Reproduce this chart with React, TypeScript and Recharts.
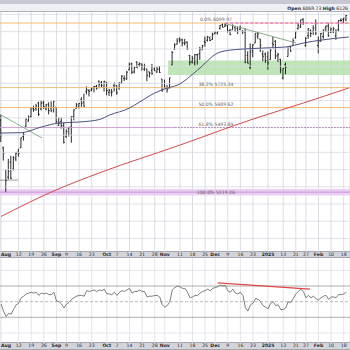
import React from 'react';
import { ComposedChart, Bar, Line, XAxis, YAxis, CartesianGrid, ReferenceLine, ReferenceArea, ReferenceDot } from 'recharts';

// daily OHLC, Aug 1 2024 .. Feb 19 2025 (trading days)
const opens = [5537,5376,5151,5206,5293,5252,5312,5352,5376,5442,5501,5531,5557,5603,5603,5637,5602,5640,5602,5629,5607,5612,
  5612,5506,5530,5507,5443,5490,5496,5558,5605,5615,5655,5641,5702,5709,5711,5727,5733,5762,5756,5727,
  5757,5698,5698,5737,5737,5725,5752,5778,5775,5829,5866,5816,5875,5859,5858,5833,5834,5817,5826,5833,5816,5832,5775,
  5724,5725,5722,5856,5947,5977,6008,6003,5985,5990,5912,5875,5870,5916,5923,5944,5992,6000,6015,6004,
  6040,6042,6069,6090,6082,6084,6057,6060,6075,6068,6063,6053,6047,5913,5842,5940,5984,6024,6007,5920,5920,
  5903,5888,5982,5994,5910,5890,5782,5859,5906,5966,5970,6015,6069,6077,6122,5970,6027,6057,6051,6097,
  5970,5998,6021,6072,6083,6046,6049,6025,6061,6115,6121,6118];
const highs = [5566,5383,5250,5312,5330,5328,5351,5371,5436,5464,5546,5564,5608,5620,5632,5643,5651,5651,5631,5640,5646,5651,
  5612,5552,5552,5522,5484,5497,5560,5600,5636,5636,5670,5690,5733,5716,5725,5735,5741,5767,5764,5765,
  5757,5719,5718,5753,5739,5757,5797,5796,5822,5871,5870,5846,5878,5873,5867,5864,5835,5817,5863,5842,5847,5850,5775,
  5772,5741,5783,5937,5983,6012,6017,6009,6008,5993,5915,5909,5920,5921,5962,5973,6021,6025,6021,6044,
  6053,6053,6089,6099,6100,6088,6066,6092,6080,6078,6085,6058,6070,5936,5982,5978,6041,6049,6007,5941,5929,
  5935,5949,6022,6001,5928,5892,5839,5871,5960,5966,6011,6051,6100,6119,6128,6018,6070,6062,6087,6121,
  6022,6043,6062,6084,6101,6074,6076,6064,6116,6128,6129,6147];
const lows = [5410,5302,5119,5193,5195,5245,5299,5325,5376,5418,5497,5528,5551,5585,5591,5561,5593,5602,5593,5570,5583,5581,
  5517,5503,5488,5402,5434,5442,5406,5535,5604,5604,5614,5615,5686,5674,5704,5698,5714,5721,5727,5703,
  5681,5677,5674,5703,5684,5713,5750,5764,5771,5825,5804,5808,5840,5846,5824,5822,5763,5784,5800,5823,5811,5811,5703,
  5723,5696,5722,5856,5946,5976,5986,5964,5970,5944,5854,5865,5853,5859,5886,5944,5963,5992,5995,6003,
  6034,6034,6062,6075,6076,6045,6029,6060,6051,6036,6059,6036,5867,5866,5832,5902,5983,6007,5932,5879,5869,
  5829,5888,5960,5891,5874,5809,5773,5803,5906,5935,5970,6010,6062,6071,6089,5962,6009,6019,6031,6030,
  5924,5990,6008,6048,6020,6042,6042,6003,6051,6107,6099,6111];
const closes = [5446,5346,5186,5240,5199,5319,5344,5344,5434,5455,5543,5554,5608,5597,5620,5570,5634,5616,5625,5592,5591,5648,
  5528,5520,5503,5408,5471,5496,5554,5596,5626,5633,5634,5618,5713,5703,5718,5732,5722,5745,5738,5762,
  5709,5709,5700,5751,5696,5751,5792,5780,5815,5859,5815,5843,5841,5865,5853,5851,5797,5809,5808,5823,5832,5813,5705,
  5728,5712,5782,5929,5973,5996,6001,5984,5985,5949,5871,5894,5917,5917,5949,5969,5987,6021,5999,6032,
  6047,6050,6086,6075,6090,6053,6034,6084,6051,6051,6074,6050,5872,5867,5931,5974,6040,6037,5971,5907,5882,
  5869,5942,5975,5909,5918,5827,5836,5843,5950,5937,5997,6049,6086,6119,6101,6012,6068,6039,6071,6041,
  5994,6038,6061,6083,6026,6066,6068,6052,6115,6115,6129,6144];

const rsi14 = [47,38,31,35,34,40,46,48,55,57,60,61,62,61,62,58,61,60,61,59,59,62,
  51,50,47,42,47,49,53,55,57,58,58,57,64,63,64,65,63,65,64,66,
  60,60,59,62,58,62,64,63,65,67,61,63,63,65,63,63,56,57,57,58,58,56,46,
  43,45,50,65,68,70,69,67,67,62,55,56,58,58,61,63,64,66,64,67,
  68,69,71,70,71,64,62,66,61,60,62,58,42,38,46,48,54,53,50,45,43,
  41,48,50,45,46,40,40,42,50,49,54,60,63,66,63,55,58,55,57,54,
  52,55,57,58,53,56,56,55,59,59,60,62];

const ma50Days = [0, 8, 16, 23, 31, 39, 43, 51, 55, 61, 66, 70, 78, 86, 91, 96, 104, 113, 120, 127, 138];
const ma50 = [5462, 5464, 5497, 5520, 5526, 5540, 5566, 5607, 5642, 5694, 5723, 5740, 5827, 5926, 5943, 5949, 5955, 5961, 5984, 6001, 6019];
const ma200Days = [0, 20, 40, 70, 100, 120, 138];
const ma200 = [4978, 5120, 5236, 5387, 5543, 5636, 5723];

const tickDays = [0, 7, 12, 17, 22, 26, 31, 36, 42, 46, 51, 56, 61, 65, 71, 76, 81, 85, 90, 95, 100, 106, 112, 117, 121, 126, 131, 136];
const tickLabels = ['Aug', '12', '19', '26', 'Sep', '9', '16', '23', 'Oct', '7', '14', '21', '28', 'Nov', '11', '18', '25', 'Dec', '9', '16', '23', '2025', '13', '21', '27', 'Feb', '10', '18'];

const priceGrid = [4850, 4950, 5050, 5150, 5250, 5350, 5450, 5550, 5650, 5750, 5850, 5950, 6050, 6150];
const rsiGrid = [10, 90];

const fibLevels = [6099.97, 5725.34, 5609.62, 5493.89, 5119.26];
const fibNames = ['0.0% 6099.97', '38.2% 5725.34', '50.0% 5609.62', '61.8% 5493.89', '100.0% 5119.26'];

const priceData = opens.map((o, i) => ({ i, o, h: highs[i], l: lows[i], c: closes[i], hl: [lows[i], highs[i]] }));
const ma50Data = ma50Days.map((d, k) => ({ i: d, v: ma50[k] }));
const ma200Data = ma200Days.map((d, k) => ({ i: d, v: ma200[k] }));
const rsiData = rsi14.map((r, i) => ({ i, r }));

const X_DOMAIN: [number, number] = [-0.4, 138.5];

const OhlcShape = (props: any) => {
  const { x, y, width, height, payload } = props;
  if (x == null || y == null) return null;
  const top = Math.min(y, y + height);
  const h = Math.abs(height);
  const cx = x + width / 2;
  const span = payload.h - payload.l || 1;
  const yO = top + ((payload.h - payload.o) / span) * h;
  const yC = top + ((payload.h - payload.c) / span) * h;
  return (
    <g stroke="#1e1e1e" strokeWidth={0.95}>
      <line x1={cx} x2={cx} y1={top} y2={top + h} />
      <line x1={cx - 1.1} x2={cx} y1={yO} y2={yO} />
      <line x1={cx} x2={cx + 1.1} y1={yC} y2={yC} />
    </g>
  );
};

const DateTick = (props: any) => {
  const { x, y, payload } = props;
  const lab = tickLabels[tickDays.indexOf(payload.value)];
  if (!lab) return null;
  const bold = isNaN(Number(lab)) || lab === '2025';
  const first = payload.value === tickDays[0];
  return (
    <text x={first ? 1 : x} y={y + 4.4} textAnchor={first ? 'start' : 'middle'} fontSize={4.6} fontWeight={bold ? 700 : 400} fill="#2a2a2a">
      {lab}
    </text>
  );
};

const band = (top: number, h: number): React.CSSProperties => ({
  position: 'absolute', left: 0, top, width: 350, height: h,
  background: '#d3d4db', borderTop: '1px solid #a4a6b0', borderBottom: '1px solid #a4a6b0', boxSizing: 'border-box',
});

export default function App() {
  return (
    <div style={{ position: 'absolute', top: 0, left: 0, width: 350, height: 350, overflow: 'hidden', background: '#f2f3f6', fontFamily: '"DejaVu Sans", Verdana, sans-serif' }}>
      <div style={{ position: 'absolute', left: 0, top: 0, width: 350, height: 4, background: '#c6c9d2' }} />
      <div style={{ position: 'absolute', left: 0, top: 4, width: 350, height: 8, background: '#eef0f3', borderBottom: '1px solid #b0b3bd', boxSizing: 'border-box' }} />
      <div style={{ position: 'absolute', right: 2, top: 5.5, fontSize: 4.6, color: '#222', whiteSpace: 'nowrap' }}>
        <b>Open</b> 6069.73 <b>High</b> 6126
      </div>
      <div style={{ position: 'absolute', left: 0, top: 12, width: 350, height: 240, background: '#ffffff' }} />
      <div style={{ position: 'absolute', left: 0, top: 258, width: 350, height: 85, background: '#ffffff' }} />
      <div style={band(251, 7)} />
      <div style={band(342, 8)} />

      <div style={{ position: 'absolute', left: 0, top: 12 }}>
        <ComposedChart width={350} height={246} data={priceData} margin={{ top: 0, right: 0, bottom: 0, left: 0 }}>
          <CartesianGrid stroke="#d2d4de" strokeWidth={0.8} horizontal={false} />
          <XAxis dataKey="i" type="number" domain={X_DOMAIN} ticks={tickDays} interval={0} height={6}
            tick={<DateTick />} tickLine={false} axisLine={false} tickSize={0} tickMargin={0} allowDataOverflow />
          <YAxis type="number" domain={[4772, 6164]} ticks={priceGrid} width={0} tick={false} axisLine={false} tickLine={false} allowDataOverflow />

          {priceGrid.map((v) => (
            <ReferenceLine key={v} y={v} stroke="#d8dae3" strokeWidth={0.8} />
          ))}

          <ReferenceArea x1={66.3} x2={138.5} y1={5798} y2={5882} fill="#b5e0ab" fillOpacity={0.85} stroke="none" />
          <ReferenceArea y1={5100} y2={5138} fill="#e7cdf0" fillOpacity={0.9} stroke="none" />
          <ReferenceLine y={fibLevels[4]} stroke="#c27ad0" strokeWidth={0.8} />

          <ReferenceLine y={fibLevels[0]} stroke="#f2b46a" strokeWidth={0.9} />
          <ReferenceLine y={fibLevels[1]} stroke="#f2b46a" strokeWidth={0.9} />
          <ReferenceLine y={fibLevels[2]} stroke="#f2b46a" strokeWidth={0.9} />
          <ReferenceLine segment={[{ x: -0.4, y: fibLevels[3] }, { x: 69, y: fibLevels[3] }]} stroke="#c99acb" strokeWidth={0.9} />
          <ReferenceLine segment={[{ x: 69, y: fibLevels[3] }, { x: 138.5, y: fibLevels[3] }]} stroke="#9a6aa6" strokeWidth={0.8} strokeDasharray="2 1" />
          <ReferenceLine segment={[{ x: 89, y: 6100 }, { x: 138.5, y: 6100 }]} stroke="#df55df" strokeWidth={1} strokeDasharray="3 2" />

          {fibNames.map((t, k) => (
            <ReferenceDot key={t} x={85.3} y={fibLevels[k]} r={0} stroke="none" fill="none"
              label={{ value: t, position: k === 4 ? 'center' : 'top', offset: 2, fontSize: 4.6, fill: '#666' }} />
          ))}

          <ReferenceLine segment={[{ x: -0.4, y: 5570 }, { x: 16.3, y: 5433 }]} stroke="#79a879" strokeWidth={0.9} />
          <ReferenceLine segment={[{ x: 89, y: 6097 }, { x: 117, y: 5985 }]} stroke="#7ea07e" strokeWidth={0.9} />
          <ReferenceLine segment={[{ x: -0.4, y: 5189 }, { x: 6.8, y: 5189 }]} stroke="#555" strokeWidth={0.6} />

          <Line data={ma200Data} dataKey="v" type="monotone" stroke="#d24a4a" strokeWidth={1} dot={false} isAnimationActive={false} />
          <Line data={ma50Data} dataKey="v" type="monotone" stroke="#4c5080" strokeWidth={1} dot={false} isAnimationActive={false} />
          <Bar dataKey="hl" barSize={2} shape={OhlcShape} isAnimationActive={false} />
        </ComposedChart>
      </div>

      <div style={{ position: 'absolute', left: 0, top: 258 }}>
        <ComposedChart width={350} height={92} data={rsiData} margin={{ top: 0, right: 0, bottom: 0, left: 0 }}>
          <CartesianGrid stroke="#dcdee6" strokeWidth={0.8} horizontal={false} />
          <XAxis dataKey="i" type="number" domain={X_DOMAIN} ticks={tickDays} interval={0} height={7}
            tick={<DateTick />} tickLine={false} axisLine={false} tickSize={0} tickMargin={0} allowDataOverflow />
          <YAxis type="number" domain={[-2.8, 105.8]} ticks={rsiGrid} width={0} tick={false} axisLine={false} tickLine={false} allowDataOverflow />
          {rsiGrid.map((v) => (
            <ReferenceLine key={v} y={v} stroke="#dcdee6" strokeWidth={0.8} />
          ))}
          <ReferenceLine y={70} stroke="#9a9a9a" strokeWidth={0.8} />
          <ReferenceLine y={50} stroke="#aaaaaa" strokeWidth={0.8} strokeDasharray="3 2" />
          <ReferenceLine y={30} stroke="#9a9a9a" strokeWidth={0.8} />
          <Line dataKey="r" type="linear" stroke="#6e6e6e" strokeWidth={0.9} dot={false} isAnimationActive={false} />
          <ReferenceLine segment={[{ x: 86, y: 74 }, { x: 122.6, y: 66 }]} stroke="#e04848" strokeWidth={1.4} />
        </ComposedChart>
      </div>
    </div>
  );
}
